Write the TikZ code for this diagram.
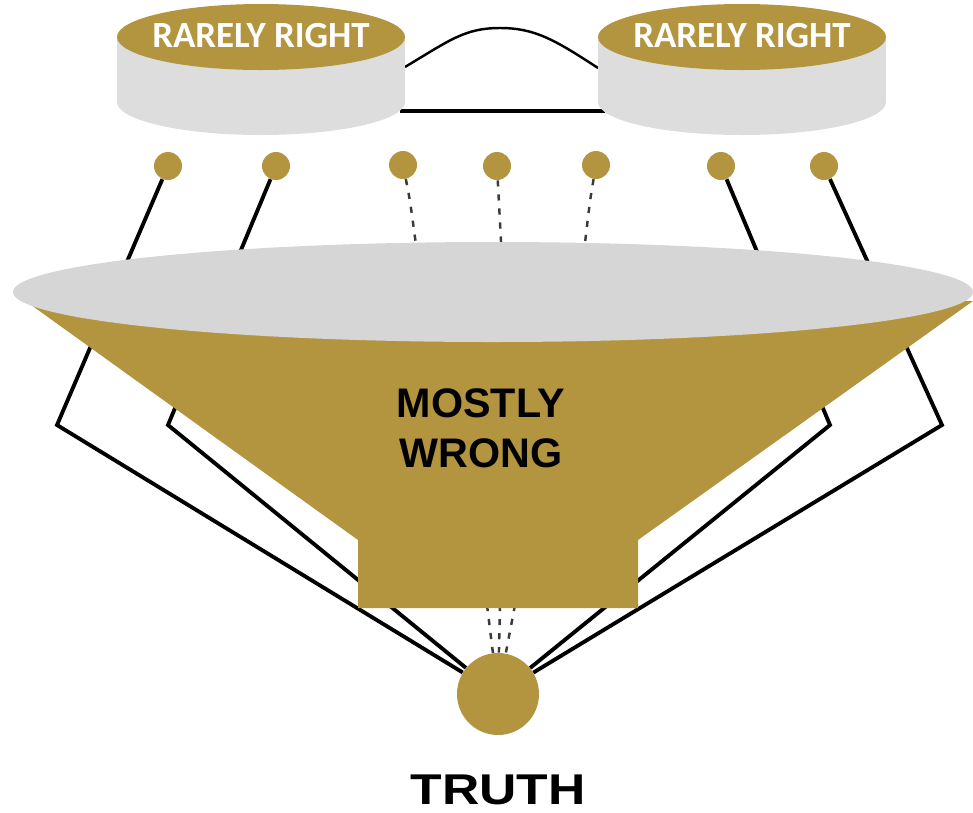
\documentclass[tikz,border=0pt]{standalone}
\usepackage{fontspec}
\usepackage{xcolor}
\usepackage{tikz}
\usetikzlibrary{calc}
\newfontfamily\capfont{Carlito}
\newfontfamily\headfont{Liberation Sans}
\definecolor{goldfill}{HTML}{B3943F}
\definecolor{cylgray}{HTML}{DDDDDD}
\definecolor{bowlgray}{HTML}{D6D6D6}
\definecolor{dashdraw}{HTML}{3A3A3A}
\tikzset{
  dot/.style={circle, fill=goldfill, minimum size=0.56cm, inner sep=0pt},
  sink/.style={circle, fill=goldfill, minimum size=1.64cm, inner sep=0pt},
  caplab/.style={font=\capfont\bfseries\fontsize{21}{24}\selectfont, text=white},
  mainlab/.style={font=\headfont\bfseries\fontsize{23.5}{28.5}\selectfont, align=center},
  wire/.style={line width=2.2pt, draw=black, line join=miter},
  drip/.style={line width=1.4pt, draw=dashdraw, dash pattern=on 3.5pt off 4.5pt},
}

\begin{document}
\begin{tikzpicture}[x=0.02cm, y=-0.02cm]
  \useasboundingbox (0,0) rectangle (973,812);
  % links between the two cylinders
  \draw[line width=1.4pt] (405,67) .. controls (450,40) and (465,28) .. (500,28)
    .. controls (535,28) and (555,40) .. (598,68);
  \draw[line width=2.6pt] (400,111) -- (605,111);
  % cylinders
  \foreach \cx in {261,742} {
    \fill[cylgray] (\cx-144,37) rectangle (\cx+144,102);
    \fill[cylgray] (\cx,102) ellipse [x radius=144, y radius=33];
    \fill[goldfill] (\cx,37) ellipse [x radius=144, y radius=33];
  }
  \node[caplab] (capl) at (261,36) {RARELY RIGHT};
  \node[caplab] (capr) at (742,36) {RARELY RIGHT};
  % inputs and truth
  \node[dot] (d1) at (168,166) {};
  \node[dot] (d2) at (276,166) {};
  \node[dot] (d3) at (403,165) {};
  \node[dot] (d4) at (497,166) {};
  \node[dot] (d5) at (596,165) {};
  \node[dot] (d6) at (721,166) {};
  \node[dot] (d7) at (824,166) {};
  \node[sink] (truth) at (498,694) {};
  \coordinate (k1) at (57,425);
  \coordinate (k2) at (168,425);
  \coordinate (k6) at (830,425);
  \coordinate (k7) at (942,425);
  \coordinate (e3) at (418,260);
  \coordinate (e4) at (502,260);
  \coordinate (e5) at (583,260);
  \coordinate (s1) at (487,605);
  \coordinate (s2) at (500,605);
  \coordinate (s3) at (515,605);
  \draw[wire] (d1) -- (k1) -- (truth);
  \draw[wire] (d2) -- (k2) -- (truth);
  \draw[wire] (d6) -- (k6) -- (truth);
  \draw[wire] (d7) -- (k7) -- (truth);
  \draw[drip] (d3) .. controls (410,200) .. (e3);
  \draw[drip] (d4) -- (e4);
  \draw[drip] (d5) .. controls (590,200) .. (e5);
  \draw[drip] (s1) -- (truth);
  \draw[drip] (s2) -- (truth);
  \draw[drip] (s3) -- (truth);
  % funnel
  \fill[goldfill] (20,297) -- (358,540) -- (358,608) -- (638,608) -- (638,540)
    -- (973,301) -- cycle;
  \fill[bowlgray] (493,292) ellipse [x radius=480, y radius=50];
  \node[mainlab] (wrong) at (481,428) {MOSTLY\\WRONG};
  \node[font=\headfont\bfseries\fontsize{24.5}{28}\selectfont, xscale=1.2] (lab) at (498,790) {TRUTH};
\end{tikzpicture}
\end{document}
